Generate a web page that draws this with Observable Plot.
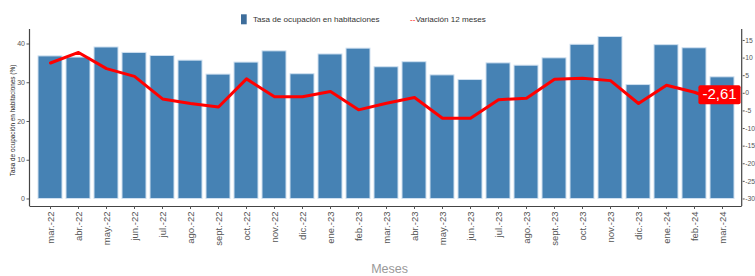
<!DOCTYPE html>
<html>
<head>
<meta charset="utf-8">
<script src="https://cdn.jsdelivr.net/npm/d3@7"></script>
<script src="https://cdn.jsdelivr.net/npm/@observablehq/plot@0.6"></script>
<style>
  html, body { margin: 0; padding: 0; background: white; }
  #chart { position: relative; width: 755px; height: 276px; }
</style>
</head>
<body>
<div id="chart"></div>
<script>
const months = ["mar.-22","abr.-22","may.-22","jun.-22","jul.-22","ago.-22","sept.-22","oct.-22","nov.-22","dic.-22",
  "ene.-23","feb.-23","mar.-23","abr.-23","may.-23","jun.-23","jul.-23","ago.-23","sept.-23","oct.-23","nov.-23","dic.-23",
  "ene.-24","feb.-24","mar.-24"];
const ocupacion = [36.8,36.5,39.1,37.7,36.9,35.7,32.1,35.2,38.1,32.2,37.3,38.8,34.0,35.3,31.9,30.7,35.0,34.4,36.3,39.8,41.8,29.4,39.7,38.9,31.4];
const variacion = [8.6,11.6,7.0,4.8,-1.6,-2.9,-3.9,4.1,-1.0,-1.0,0.5,-4.7,-2.8,-1.2,-7.1,-7.1,-1.8,-1.4,4.0,4.3,3.6,-2.9,2.3,0.3,-2.61];
const leftTicks = [0,10,20,30,40];
const rightTicks = [-30,-25,-20,-15,-10,-5,0,5,10,15];
const seriesNames = ["Tasa de ocupación en habitaciones", "Variación 12 meses"];
const yTitle = "Tasa de ocupación en habitaciones (%)";
const xTitle = "Meses";

// secondary axis transform (right axis value -> left axis units)
const toL = r => (r + 30) / 1.1;
const fromL = l => l * 1.1 - 30;

const data = months.map((m, i) => ({mes: m, ocupacion: ocupacion[i], variacion: variacion[i]}));
const last = [data[data.length - 1]];
const lastText = String(last[0].variacion).replace(".", ",");
const yDomain = [-1.94, 43.74];
const font = "'Liberation Sans', Arial, sans-serif";

const plot = Plot.plot({
  width: 755,
  height: 276,
  marginLeft: 29.5,
  marginRight: 13.3,
  marginTop: 29,
  marginBottom: 70,
  style: {fontFamily: font, background: "white", overflow: "visible"},
  x: {type: "band", domain: months, padding: 0.15, paddingOuter: 0.235, label: null},
  y: {domain: yDomain, label: null},
  marks: [
    Plot.barY(data, {x: "mes", y: "ocupacion", fill: "#4682B4", stroke: "#cfe0f0", strokeWidth: 1}),
    Plot.line(data, {x: "mes", y: d => toL(d.variacion), stroke: "#ff0000", strokeWidth: 3, strokeLinejoin: "round", strokeLinecap: "round"}),
    Plot.ruleY([yDomain[0]], {stroke: "#444", strokeWidth: 1.2}),
    Plot.axisY(leftTicks, {anchor: "left", tickSize: 3, tickPadding: 2, fontSize: 7, color: "#555", label: null}),
    Plot.axisY(rightTicks.map(toL), {anchor: "right", tickSize: 2, tickPadding: 1, fontSize: 6.8, color: "#555", label: null,
      tickFormat: v => String(Math.round(fromL(v)))}),
    Plot.axisX({tickRotate: -90, tickSize: 3, tickPadding: 2, fontSize: 9.5, color: "#555", label: null}),
    Plot.text(last, {x: "mes", y: d => toL(d.variacion), text: () => lastText,
      dx: -3, dy: -8, fill: "white", fontSize: 15})
  ]
});

document.getElementById("chart").append(plot);

const svg = d3.select(plot);
const xr = plot.scale("x").range;
const yr = plot.scale("y").range; // [bottom, top]

// axis lines
svg.append("line").attr("x1", xr[0]).attr("x2", xr[0]).attr("y1", yr[0]).attr("y2", yr[1])
  .attr("stroke", "#444").attr("stroke-width", 1.2);
svg.append("line").attr("x1", xr[1]).attr("x2", xr[1]).attr("y1", yr[0]).attr("y2", yr[1])
  .attr("stroke", "#444").attr("stroke-width", 1.2);

// label box behind last value
svg.selectAll("text").filter(function() { return this.textContent === lastText; }).each(function() {
  const bb = this.getBBox();
  d3.select(this.parentNode).insert("rect", () => this)
    .attr("x", bb.x - 4).attr("y", bb.y).attr("width", bb.width + 8).attr("height", bb.height + 2)
    .attr("transform", this.getAttribute("transform"))
    .attr("rx", 2).attr("fill", "#ff0000");
});

// y title
svg.append("text")
  .attr("transform", `translate(15,${(yr[0] + yr[1]) / 2 + 3}) rotate(-90)`)
  .attr("text-anchor", "middle").attr("font-size", 6.4).attr("fill", "#222")
  .attr("font-family", font).text(yTitle);

// x title
svg.append("text")
  .attr("x", (xr[0] + xr[1]) / 2 + 4).attr("y", 273)
  .attr("text-anchor", "middle").attr("font-size", 12.5).attr("fill", "#999")
  .attr("font-family", font).text(xTitle);

// legend
const lg = svg.append("g").attr("font-family", font).attr("font-size", 8.1).attr("fill", "#333").attr("text-anchor", "start");
lg.append("rect").attr("x", 241).attr("y", 14.3).attr("width", 5.7).attr("height", 10).attr("fill", "#3d6d9b");
lg.append("text").attr("x", 253).attr("y", 21.8).text(seriesNames[0]);
const t2 = lg.append("text").attr("x", 410).attr("y", 21.8);
t2.append("tspan").attr("fill", "#ff0000").text("--");
t2.append("tspan").text(seriesNames[1]);
</script>
</body>
</html>
